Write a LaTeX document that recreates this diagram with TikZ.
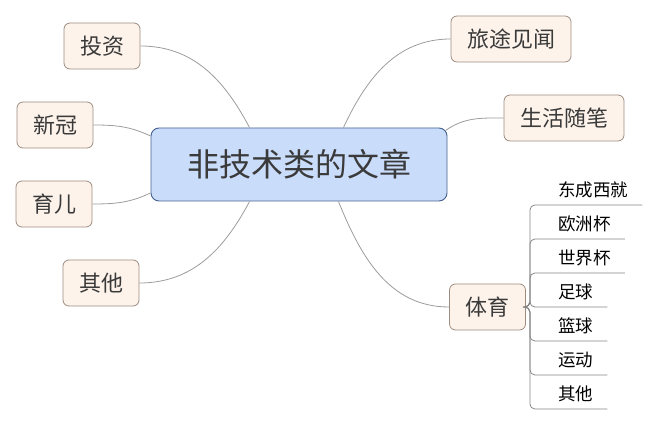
\documentclass[tikz,border=0pt]{standalone}
\usepackage{fontspec}
\setmainfont{Noto Sans CJK SC}
\usepackage{tikz}

\definecolor{mainfill}{HTML}{C9DCFA}
\definecolor{mainline}{HTML}{44608F}
\definecolor{topicfill}{HTML}{FDF3EB}
\definecolor{topicline}{HTML}{9E8C80}
\definecolor{linkgray}{HTML}{9C9C9C}
\definecolor{textgray}{HTML}{3A3A3A}

\begin{document}
\begin{tikzpicture}[
        x=1pt, y=1pt,
        central/.style={draw=mainline, fill=mainfill, rounded corners=8pt, line width=0.9pt,
            minimum width=296pt, minimum height=73pt, text=textgray, font=\fontsize{32}{36}\selectfont},
        topic/.style={draw=topicline, fill=topicfill, rounded corners=6pt, line width=0.8pt,
            inner xsep=16pt, minimum height=46pt, text=textgray, font=\fontsize{22}{26}\selectfont},
        leaf/.style={anchor=south west, inner xsep=14pt, inner ysep=7pt, font=\fontsize{17.5}{20}\selectfont},
        link/.style={draw=linkgray, line width=0.8pt},
        sub/.style={draw=linkgray!85!black, line width=0.8pt, rounded corners=5pt}
    ]
        \useasboundingbox (0,0) rectangle (660,425);
        \node[central] (main) at (299,260.5) {非技术类的文章};
        \node[topic] (touzi) at (102,379) {投资};
        \node[topic] (xinguan) at (55,300) {新冠};
        \node[topic] (yuer) at (54,221) {育儿};
        \node[topic] (qita) at (101,142) {其他};
        \node[topic] (lvtu) at (511,386) {旅途见闻};
        \node[topic] (shenghuo) at (564,307) {生活随笔};
        \node[topic] (tiyu) at (487.5,118) {体育};
        \coordinate (hub) at ([xshift=4pt]tiyu.east);
        \foreach \t [count=\i] in {东成西就,欧洲杯,世界杯,足球,篮球,运动,其他}
            \node[leaf] (leaf\i) at (544,{254-34*\i}) {\t};
        \draw[link] (touzi.east) to[out=0, in=118] ([xshift=99pt]main.north west);
        \draw[link] (xinguan.east) to[out=0, in=155] ([yshift=28.5pt]main.west);
        \draw[link] (yuer.east) to[out=0, in=205] ([yshift=-28.5pt]main.west);
        \draw[link] (qita.east) to[out=0, in=242] ([xshift=99pt]main.south west);
        \draw[link] ([xshift=-104pt]main.north east) to[out=65, in=180] (lvtu.west);
        \draw[link] ([xshift=-2pt, yshift=-3pt]main.north east) to[out=35, in=180] (shenghuo.west);
        \draw[link] ([xshift=-109pt]main.south east) to[out=-68, in=180] (tiyu.west);
        \foreach \i in {1,...,7}
            \draw[sub] (tiyu.east) -- (hub) |- (leaf\i.south east);
    \end{tikzpicture}
\end{document}
